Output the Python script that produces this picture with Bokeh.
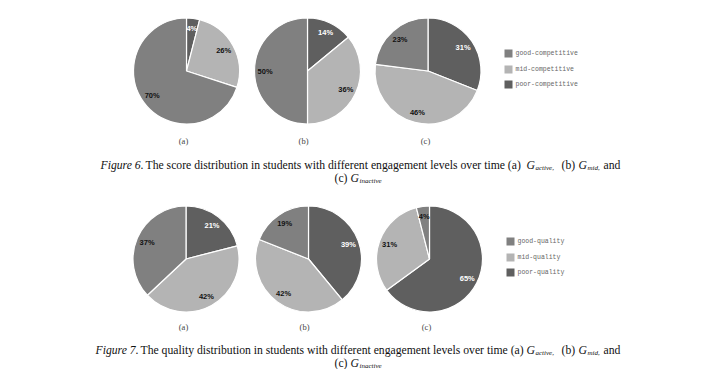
import math
from bokeh.plotting import figure
from bokeh.models import Range1d, ColumnDataSource
from bokeh.core.properties import value
from bokeh.embed import file_html
from bokeh.resources import INLINE

# ---------------- data ----------------
score_categories = ["good-competitive", "mid-competitive", "poor-competitive"]
score_active = [70, 26, 4]
score_mid = [50, 36, 14]
score_inactive = [23, 46, 31]

quality_categories = ["good-quality", "mid-quality", "poor-quality"]
quality_active = [37, 42, 21]
quality_mid = [19, 42, 39]
quality_inactive = [4, 31, 65]

panel_labels = ["(a)", "(b)", "(c)"]

# ---------------- figure ----------------
W, H = 715, 369
p = figure(width=W, height=H, x_range=Range1d(0, W), y_range=Range1d(0, H),
           output_backend="svg", toolbar_location=None,
           x_axis_type=None, y_axis_type=None, min_border=0,
           outline_line_color=None, background_fill_color="white",
           border_fill_color="white")


def X(rx):
    return rx


def Y(ry):
    return H - ry


COLORS = ["#808080", "#b4b4b4", "#5f5f5f"]      # good, mid, poor
LABEL_COLORS = ["#111111", "#111111", "#ffffff"]
ORDER = [2, 1, 0]                                 # clockwise from 12 o'clock: poor, mid, good
R = 53


def pie(cx, cy, values):
    total = float(sum(values))
    cum = 0.0
    d = dict(x=[], y=[], s=[], e=[], c=[])
    t = dict(x=[], y=[], txt=[], c=[])
    for i in ORDER:
        frac = values[i] / total
        s = math.pi / 2 - 2 * math.pi * cum
        e = math.pi / 2 - 2 * math.pi * (cum + frac)
        m = math.pi / 2 - 2 * math.pi * (cum + frac / 2)
        d["x"].append(X(cx)); d["y"].append(Y(cy))
        d["s"].append(s); d["e"].append(e); d["c"].append(COLORS[i])
        t["x"].append(X(cx) + 0.8 * R * math.cos(m))
        t["y"].append(Y(cy) + 0.8 * R * math.sin(m))
        t["txt"].append(f"{values[i]}%")
        t["c"].append(LABEL_COLORS[i])
        cum += frac
    p.wedge(x="x", y="y", radius=R, start_angle="s", end_angle="e",
            direction="clock", fill_color="c", line_color="white",
            line_width=1.2, source=ColumnDataSource(d))
    p.text(x="x", y="y", text="txt", text_color="c", source=ColumnDataSource(t),
           text_font=value("Liberation Sans"), text_font_style="bold",
           text_font_size="7.5px", text_align="center", text_baseline="middle")


def legend(x0, ys, labels):
    p.rect(x=[X(x0)] * 3, y=[Y(v) for v in ys], width=8, height=8,
           fill_color=COLORS, line_color=None)
    p.text(x=[X(x0 + 7)] * 3, y=[Y(v) for v in ys], text=labels,
           text_font=value("Liberation Mono"), text_font_size="6.5px",
           text_color="#666666", text_baseline="middle", text_align="left")


def txt(x, y, s, size="11.7px", style="normal"):
    p.text(x=[X(x)], y=[Y(y)], text=[s], text_font=value("Liberation Serif"),
           text_font_size=size, text_font_style=style, text_color="#111111",
           text_baseline="alphabetic", text_align="left")


# ---------------- Figure 6 ----------------
top_cx = [186, 307, 427.5]
for cx, vals in zip(top_cx, [score_active, score_mid, score_inactive]):
    pie(cx, 70.5, vals)
p.text(x=[X(183), X(303), X(425)], y=[Y(140)] * 3, text=panel_labels,
       text_font=value("Liberation Serif"), text_font_size="8.5px",
       text_color="#444444", text_align="center", text_baseline="middle")
legend(508, [53, 69, 84], score_categories)

txt(100, 165, "Figure 6.", style="italic")
txt(145, 165, "The score distribution in students with different engagement levels over time (a)")
txt(526, 165, "G", style="italic")
txt(535, 167.5, "active,", size="7px", style="italic")
txt(561, 165, "(b)")
txt(578, 165, "G", style="italic")
txt(587, 167.5, "mid,", size="7px", style="italic")
txt(603, 165, "and")
txt(334, 178, "(c)")
txt(350, 178, "G", style="italic")
txt(359, 180.5, "inactive", size="7px", style="italic")

# ---------------- Figure 7 ----------------
bot_cx = [185.5, 308, 429]
for cx, vals in zip(bot_cx, [quality_active, quality_mid, quality_inactive]):
    pie(cx, 258.5, vals)
p.text(x=[X(183), X(304), X(426)], y=[Y(326)] * 3, text=panel_labels,
       text_font=value("Liberation Serif"), text_font_size="8.5px",
       text_color="#444444", text_align="center", text_baseline="middle")
legend(510, [241, 257, 272], quality_categories)

txt(95, 350, "Figure 7.", style="italic")
txt(140, 350, "The quality distribution in students with different engagement levels over time (a)")
txt(526, 350, "G", style="italic")
txt(535, 352.5, "active,", size="7px", style="italic")
txt(561, 350, "(b)")
txt(578, 350, "G", style="italic")
txt(587, 352.5, "mid,", size="7px", style="italic")
txt(603, 350, "and")
txt(334, 363, "(c)")
txt(350, 363, "G", style="italic")
txt(359, 365.5, "inactive", size="7px", style="italic")

open("out.html", "w").write(file_html(p, INLINE))
